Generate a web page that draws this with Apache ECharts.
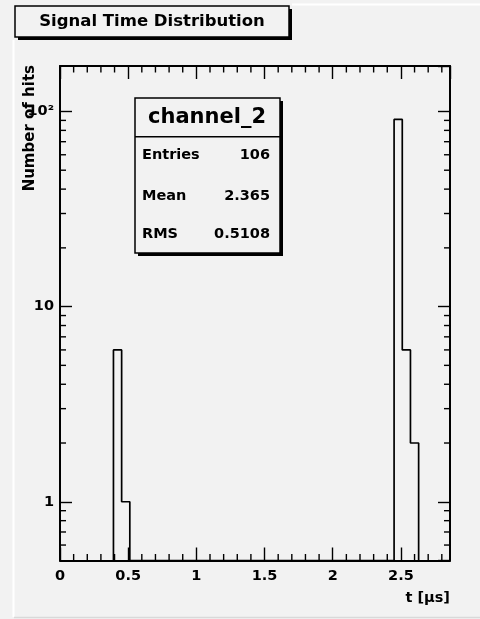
<!DOCTYPE html>
<html>
<head>
<meta charset="utf-8">
<script src="https://cdn.jsdelivr.net/npm/echarts@6.0.0/dist/echarts.min.js"></script>
<style>
html,body{margin:0;padding:0;background:#f2f2f2;}
#chart{width:480px;height:619px;}
</style>
</head>
<body>
<div id="chart"></div>
<script>
// ---- data ----
const histName = 'channel_2';
const chartTitle = 'Signal Time Distribution';
const xTitle = 't [\u03bcs]';
const yTitle = 'Number of hits';
const binStart = [0.392, 0.452, 2.45, 2.51, 2.57];
const binWidth = 0.06;
const counts = [6, 1, 91, 6, 2];
const statsLabels = ['Entries', 'Mean', 'RMS'];
const statsValues = ['106', '2.365', '0.5108'];
const xTickValues = [0, 0.5, 1, 1.5, 2, 2.5];
const xTickLabels = ['0', '0.5', '1', '1.5', '2', '2.5'];
const yTickValues = [1, 10, 100];
const yTickLabels = ['1', '10', '10\u00b2'];
const xMin = 0, xMax = 2.86;
const yMin = 0.5, yMax = 171;

// ---- build outline of histogram (ROOT style) ----
function buildOutline() {
  const pts = [];
  let prevHi = null;
  for (let i = 0; i < binStart.length; i++) {
    const lo = binStart[i], hi = lo + binWidth, c = counts[i];
    if (prevHi === null) {
      pts.push([lo, yMin]);
    } else if (Math.abs(prevHi - lo) > 1e-9) {
      pts.push([prevHi, yMin]);
      pts.push([lo, yMin]);
    }
    pts.push([lo, c]);
    pts.push([hi, c]);
    prevHi = hi;
  }
  pts.push([prevHi, yMin]);
  return pts;
}

// minor tick positions
const xMinor = [];
for (let k = 1; k * 0.1 < xMax; k++) {
  if (k % 5 !== 0) xMinor.push([k / 10, yMin]);
}
const yMinor = [];
for (let d = -1; d <= 2; d++) {
  for (let m = 2; m <= 9; m++) {
    const v = m * Math.pow(10, d);
    if (v > yMin && v < yMax) yMinor.push([xMin, +v.toPrecision(6)]);
  }
}

const FONT = 'DejaVu Sans';
const bg = '#f2f2f2';

function labelFor(values, labels, v) {
  for (let i = 0; i < values.length; i++) {
    if (Math.abs(values[i] - v) < 1e-6 * Math.max(1, Math.abs(v))) return labels[i];
  }
  return '';
}

const chart = echarts.init(document.getElementById('chart'), null, {renderer: 'canvas'});

const axisLineStyle = {color: '#000', width: 2};
const tickStyle = {color: '#000', width: 1.4};
const labelBase = {fontFamily: FONT, fontWeight: 'bold', fontSize: 14.5, color: '#000'};

const option = {
  animation: false,
  backgroundColor: bg,
  grid: {left: 60, right: 30, top: 66, bottom: 58.5, containLabel: false, show: false},
  xAxis: [
    {
      type: 'value', min: xMin, max: xMax, interval: 0.5, position: 'bottom',
      axisLine: {show: true, onZero: false, lineStyle: axisLineStyle},
      axisTick: {show: true, inside: true, length: 13, lineStyle: tickStyle},
      axisLabel: Object.assign({show: true, margin: 8, showMinLabel: true, showMaxLabel: false,
        formatter: v => labelFor(xTickValues, xTickLabels, v)}, labelBase),
      splitLine: {show: false}, minorTick: {show: false}
    },
    {
      type: 'value', min: xMin, max: xMax, interval: 0.5, position: 'top',
      axisLine: {show: true, onZero: false, lineStyle: axisLineStyle},
      axisTick: {show: true, inside: true, length: 13, lineStyle: tickStyle},
      axisLabel: {show: false}, splitLine: {show: false}
    }
  ],
  yAxis: [
    {
      type: 'log', logBase: 10, min: yMin, max: yMax, position: 'left',
      axisLine: {show: true, onZero: false, lineStyle: axisLineStyle},
      axisTick: {show: true, inside: true, length: 12, lineStyle: tickStyle},
      axisLabel: Object.assign({show: true, margin: 6, showMinLabel: false, showMaxLabel: false,
        formatter: v => labelFor(yTickValues, yTickLabels, v)}, labelBase),
      splitLine: {show: false}
    },
    {
      type: 'log', logBase: 10, min: yMin, max: yMax, position: 'right',
      axisLine: {show: true, onZero: false, lineStyle: axisLineStyle},
      axisTick: {show: true, inside: true, length: 12, lineStyle: tickStyle},
      axisLabel: {show: false}, splitLine: {show: false}
    }
  ],
  series: [
    {
      type: 'line', xAxisIndex: 0, yAxisIndex: 0,
      data: buildOutline(), symbol: 'none', showSymbol: false,
      lineStyle: {color: '#000', width: 1.7}, clip: true, z: 3
    },
    {
      type: 'custom', xAxisIndex: 0, yAxisIndex: 0, coordinateSystem: 'cartesian2d',
      data: xMinor, clip: false, silent: true, z: 4,
      renderItem: (params, api) => {
        const x = api.value(0);
        const pb = api.coord([x, yMin]);
        const pt = api.coord([x, yMax]);
        return {type: 'group', children: [
          {type: 'line', shape: {x1: pb[0], y1: pb[1], x2: pb[0], y2: pb[1] - 6.5}, style: {stroke: '#000', lineWidth: 1.4}},
          {type: 'line', shape: {x1: pt[0], y1: pt[1], x2: pt[0], y2: pt[1] + 6.5}, style: {stroke: '#000', lineWidth: 1.4}}
        ]};
      }
    },
    {
      type: 'custom', xAxisIndex: 0, yAxisIndex: 0, coordinateSystem: 'cartesian2d',
      data: yMinor, clip: false, silent: true, z: 4,
      renderItem: (params, api) => {
        const v = api.value(1);
        const pl = api.coord([xMin, v]);
        const pr = api.coord([xMax, v]);
        return {type: 'group', children: [
          {type: 'line', shape: {x1: pl[0], y1: pl[1], x2: pl[0] + 6, y2: pl[1]}, style: {stroke: '#000', lineWidth: 1.4}},
          {type: 'line', shape: {x1: pr[0], y1: pr[1], x2: pr[0] - 6, y2: pr[1]}, style: {stroke: '#000', lineWidth: 1.4}}
        ]};
      }
    }
  ],
  graphic: [
    // canvas bevel lines
    {type: 'line', shape: {x1: 13.5, y1: 40, x2: 13.5, y2: 617}, style: {stroke: '#ffffff', lineWidth: 2}, silent: true},
    {type: 'line', shape: {x1: 292, y1: 4.5, x2: 480, y2: 4.5}, style: {stroke: '#ffffff', lineWidth: 2}, silent: true},
    {type: 'line', shape: {x1: 14, y1: 617.5, x2: 480, y2: 617.5}, style: {stroke: '#d9d9d9', lineWidth: 1.5}, silent: true},
    // title box
    {type: 'rect', shape: {x: 18, y: 9, width: 274, height: 31}, style: {fill: '#000'}, silent: true, z: 10},
    {type: 'rect', shape: {x: 15, y: 6, width: 274, height: 31}, style: {fill: bg, stroke: '#000', lineWidth: 1.5}, silent: true, z: 11},
    {type: 'text', x: 152, y: 22, style: {text: chartTitle, fontFamily: FONT, fontWeight: 'bold', fontSize: 16.5, fill: '#000', align: 'center', verticalAlign: 'middle'}, silent: true, z: 12},
    // stats box
    {type: 'rect', shape: {x: 138, y: 101, width: 145, height: 155}, style: {fill: '#000'}, silent: true, z: 10},
    {type: 'rect', shape: {x: 135, y: 98, width: 145, height: 155}, style: {fill: bg, stroke: '#000', lineWidth: 1.5}, silent: true, z: 11},
    {type: 'line', shape: {x1: 135, y1: 136.7, x2: 280, y2: 136.7}, style: {stroke: '#000', lineWidth: 1.5}, silent: true, z: 12},
    {type: 'text', x: 207, y: 118, style: {text: histName, fontFamily: FONT, fontWeight: 'bold', fontSize: 21, fill: '#000', align: 'center', verticalAlign: 'middle'}, silent: true, z: 12},
    {type: 'text', x: 142, y: 155, style: {text: statsLabels[0], fontFamily: FONT, fontWeight: 'bold', fontSize: 14.5, fill: '#000', align: 'left', verticalAlign: 'middle'}, silent: true, z: 12},
    {type: 'text', x: 142, y: 196, style: {text: statsLabels[1], fontFamily: FONT, fontWeight: 'bold', fontSize: 14.5, fill: '#000', align: 'left', verticalAlign: 'middle'}, silent: true, z: 12},
    {type: 'text', x: 142, y: 234.5, style: {text: statsLabels[2], fontFamily: FONT, fontWeight: 'bold', fontSize: 14.5, fill: '#000', align: 'left', verticalAlign: 'middle'}, silent: true, z: 12},
    {type: 'text', x: 270, y: 155, style: {text: statsValues[0], fontFamily: FONT, fontWeight: 'bold', fontSize: 14.5, fill: '#000', align: 'right', verticalAlign: 'middle'}, silent: true, z: 12},
    {type: 'text', x: 270, y: 196, style: {text: statsValues[1], fontFamily: FONT, fontWeight: 'bold', fontSize: 14.5, fill: '#000', align: 'right', verticalAlign: 'middle'}, silent: true, z: 12},
    {type: 'text', x: 270, y: 234.5, style: {text: statsValues[2], fontFamily: FONT, fontWeight: 'bold', fontSize: 14.5, fill: '#000', align: 'right', verticalAlign: 'middle'}, silent: true, z: 12},
    // axis titles
    {type: 'text', x: 30, y: 65, rotation: Math.PI / 2, style: {text: yTitle, fontFamily: FONT, fontWeight: 'bold', fontSize: 15, fill: '#000', align: 'right', verticalAlign: 'middle'}, silent: true, z: 12},
    {type: 'text', x: 450, y: 598, style: {text: xTitle, fontFamily: FONT, fontWeight: 'bold', fontSize: 14.5, fill: '#000', align: 'right', verticalAlign: 'middle'}, silent: true, z: 12}
  ]
};
chart.setOption(option);
</script>
</body>
</html>
